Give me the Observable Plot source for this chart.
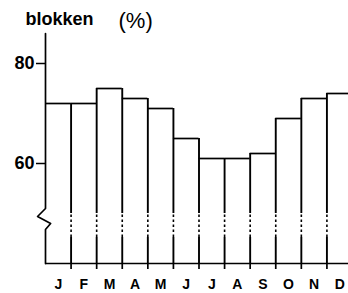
<!DOCTYPE html>
<html>
<head>
<meta charset="utf-8">
<script src="https://cdn.jsdelivr.net/npm/d3@7"></script>
<script src="https://cdn.jsdelivr.net/npm/@observablehq/plot@0.6"></script>
<style>
  html, body { margin: 0; padding: 0; background: #fff; }
</style>
</head>
<body>
<div id="chart"></div>
<script>
const months = ["J","F","M","A","M","J","J","A","S","O","N","D"];
const values = [72, 72, 75, 73, 71, 65, 61, 61, 62, 69, 73, 74];
const yTicks = [60, 80];
const titleLeft = ["blokken"];
const titleUnit = ["(%)"];
const yBase = 40, yTop = 86;
const dashFrom = 45.2, dashTo = 50;
// axis break zigzag (x in month units, y in %)
const zigzag = [[0, 86], [0, 51], [-0.31, 49.4], [0.2, 48], [0, 46.8], [0, 40]];

const bars = months.map((m, i) => ({m, i, v: values[i]}));
const edges = d3.range(1, 13).map(i => ({
  x: i,
  top: i < 12 ? Math.max(values[i - 1], values[i]) : values[11]
}));

const font = "Liberation Sans, Arial, Helvetica, sans-serif";

const chart = Plot.plot({
  width: 348,
  height: 293,
  marginTop: 33,
  marginBottom: 30,
  marginLeft: 45,
  marginRight: 0,
  style: {fontFamily: font, background: "#fff", color: "#000", overflow: "hidden"},
  x: {type: "linear", domain: [0, 12], range: [45, 352], axis: null},
  y: {domain: [yBase, yTop], range: [263, 33], axis: null},
  marks: [
    // bar tops
    Plot.ruleY(bars, {x1: "i", x2: d => d.i + 1, y: "v", stroke: "#000", strokeWidth: 1.7}),
    // vertical edges: solid upper part
    Plot.ruleX(edges, {x: "x", y1: dashTo, y2: "top", stroke: "#000", strokeWidth: 1.9}),
    // dashed break part
    Plot.ruleX(edges, {x: "x", y1: dashFrom, y2: dashTo, stroke: "#000", strokeWidth: 1.6, strokeDasharray: "2.5,2.5"}),
    // solid lower part
    Plot.ruleX(edges, {x: "x", y1: yBase, y2: dashFrom, stroke: "#000", strokeWidth: 1.9}),
    // y axis with zigzag break
    Plot.line(zigzag, {x: d => d[0], y: d => d[1], stroke: "#000", strokeWidth: 1.7, curve: "linear"}),
    // baseline
    Plot.ruleY([yBase], {x1: 0, x2: 12, stroke: "#000", strokeWidth: 1.7}),
    // ticks below baseline
    Plot.axisX({ticks: edges.map(d => d.x), tickSize: 6, tickFormat: () => "", strokeWidth: 1.7}),
    // y ticks and labels
    Plot.axisY({ticks: yTicks, tickSize: 9, tickPadding: 2, fontSize: 18, fontWeight: "bold", strokeWidth: 1.5}),
    // month labels
    Plot.text(bars, {x: d => d.i + 0.5, y: yBase, text: "m", dy: 21, fontSize: 14, fontWeight: "bold", lineAnchor: "middle", fill: "#000"}),
    // title
    Plot.text(titleLeft, {x: 0, y: yTop, text: d => d, dx: -20, dy: -9, lineAnchor: "bottom", textAnchor: "start", fontSize: 18, fontWeight: "bold", fill: "#000"}),
    Plot.text(titleUnit, {x: 0, y: yTop, text: d => d, dx: 73, dy: -6, lineAnchor: "bottom", textAnchor: "start", fontSize: 22, fill: "#000"})
  ]
});
document.getElementById("chart").appendChild(chart);
</script>
</body>
</html>
